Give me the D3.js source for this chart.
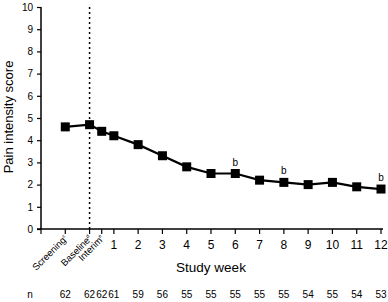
<!DOCTYPE html>
<html>
<head>
    <script src="https://d3js.org/d3.v7.min.js"></script>
    <style>
        body { margin: 0; background: #fff; }
        text { font-family: "Liberation Sans", Arial, sans-serif; fill: #000; }
    </style>
</head>
<body>

<script>
// study time points (week -1 = screening, 0 = baseline, 0.5 = interim)
const weeks = [-1, 0, 0.5, 1, 2, 3, 4, 5, 6, 7, 8, 9, 10, 11, 12];
const painScores = [4.6, 4.7, 4.4, 4.2, 3.8, 3.3, 2.8, 2.5, 2.5, 2.2, 2.1, 2.0, 2.1, 1.9, 1.8];
const nValues = [62, 62, 62, 61, 59, 56, 55, 55, 55, 55, 55, 54, 55, 54, 53];
const namedWeeks = [
    { w: -1, label: 'Screening', sup: 'c' },
    { w: 0, label: 'Baseline', sup: 'd' },
    { w: 0.5, label: 'Interim', sup: 'e' }
];
const numberedWeeks = [1, 2, 3, 4, 5, 6, 7, 8, 9, 10, 11, 12];
const flaggedWeeks = [6, 8, 12];
const yTicks = [0, 1, 2, 3, 4, 5, 6, 7, 8, 9, 10];

const width = 388, height = 302;
const svg = d3.select('body')
    .append('svg')
    .attr('width', width)
    .attr('height', height);

const x = d3.scaleLinear().domain([-2, 12]).range([41, 381]);
const y = d3.scaleLinear().domain([0, 10]).range([229, 7]);

// y axis
const yAxis = svg.append('g')
    .attr('transform', `translate(${x(-2)},0)`)
    .call(d3.axisLeft(y).tickValues(yTicks).tickSize(4).tickPadding(4));
yAxis.select('.domain').attr('d', `M0,${y(10)}V${y(0)}`).attr('stroke-width', 1.5);
yAxis.selectAll('.tick line').attr('stroke-width', 1.2);
yAxis.selectAll('text').style('font-size', '10px');

// x axis line
svg.append('line')
    .attr('x1', x(-2) - 4).attr('x2', x(12) + 2)
    .attr('y1', y(0)).attr('y2', y(0))
    .attr('stroke', '#000').attr('stroke-width', 1.5);

// x ticks
svg.selectAll('line.xtick')
    .data([-2].concat(weeks))
    .enter()
    .append('line')
    .attr('class', 'xtick')
    .attr('x1', d => x(d)).attr('x2', d => x(d))
    .attr('y1', y(0)).attr('y2', y(0) + 5)
    .attr('stroke', '#000').attr('stroke-width', 1.2);

svg.selectAll('text.xnum')
    .data(numberedWeeks)
    .enter()
    .append('text')
    .attr('class', 'xnum')
    .attr('x', d => x(d))
    .attr('y', y(0) + 20)
    .attr('text-anchor', 'middle')
    .style('font-size', '12px')
    .text(d => d);

const named = svg.selectAll('text.xname')
    .data(namedWeeks)
    .enter()
    .append('text')
    .attr('class', 'xname')
    .attr('text-anchor', 'end')
    .attr('transform', d => `translate(${x(d.w) + 3},${y(0) + 10}) rotate(-45)`)
    .style('font-size', '9.5px');
named.append('tspan').text(d => d.label);
named.append('tspan')
    .attr('dy', -4)
    .style('font-size', '5px')
    .text(d => d.sup);

// dotted baseline marker
svg.append('line')
    .attr('x1', x(0)).attr('x2', x(0))
    .attr('y1', y(10)).attr('y2', y(0))
    .attr('stroke', '#000')
    .attr('stroke-width', 1.5)
    .attr('stroke-dasharray', '2,3');

// line and markers
const line = d3.line()
    .x((d, i) => x(weeks[i]))
    .y(d => y(d));

svg.append('path')
    .datum(painScores)
    .attr('fill', 'none')
    .attr('stroke', '#000')
    .attr('stroke-width', 2.2)
    .attr('d', line);

svg.selectAll('rect.marker')
    .data(painScores)
    .enter()
    .append('rect')
    .attr('class', 'marker')
    .attr('x', (d, i) => x(weeks[i]) - 4.5)
    .attr('y', d => y(d) - 4.5)
    .attr('width', 9)
    .attr('height', 9)
    .attr('fill', '#000');

// significance labels
svg.selectAll('text.sig')
    .data(flaggedWeeks)
    .enter()
    .append('text')
    .attr('class', 'sig')
    .attr('x', d => x(d))
    .attr('y', d => y(painScores[weeks.indexOf(d)]) - 8)
    .attr('text-anchor', 'middle')
    .style('font-size', '10px')
    .text('b');

// axis titles
svg.append('text')
    .attr('x', x(5))
    .attr('y', 272)
    .attr('text-anchor', 'middle')
    .style('font-size', '13.5px')
    .text('Study week');

svg.append('text')
    .attr('transform', `translate(13,${y(5) - 1}) rotate(-90)`)
    .attr('text-anchor', 'middle')
    .style('font-size', '13px')
    .text('Pain intensity score');

// n row
svg.append('text')
    .attr('x', 30)
    .attr('y', 298)
    .attr('text-anchor', 'middle')
    .style('font-size', '10px')
    .text('n');

svg.selectAll('text.nval')
    .data(nValues)
    .enter()
    .append('text')
    .attr('class', 'nval')
    .attr('x', (d, i) => x(weeks[i]))
    .attr('y', 298)
    .attr('text-anchor', 'middle')
    .style('font-size', '10px')
    .text(d => d);
</script>

</body>
</html>
